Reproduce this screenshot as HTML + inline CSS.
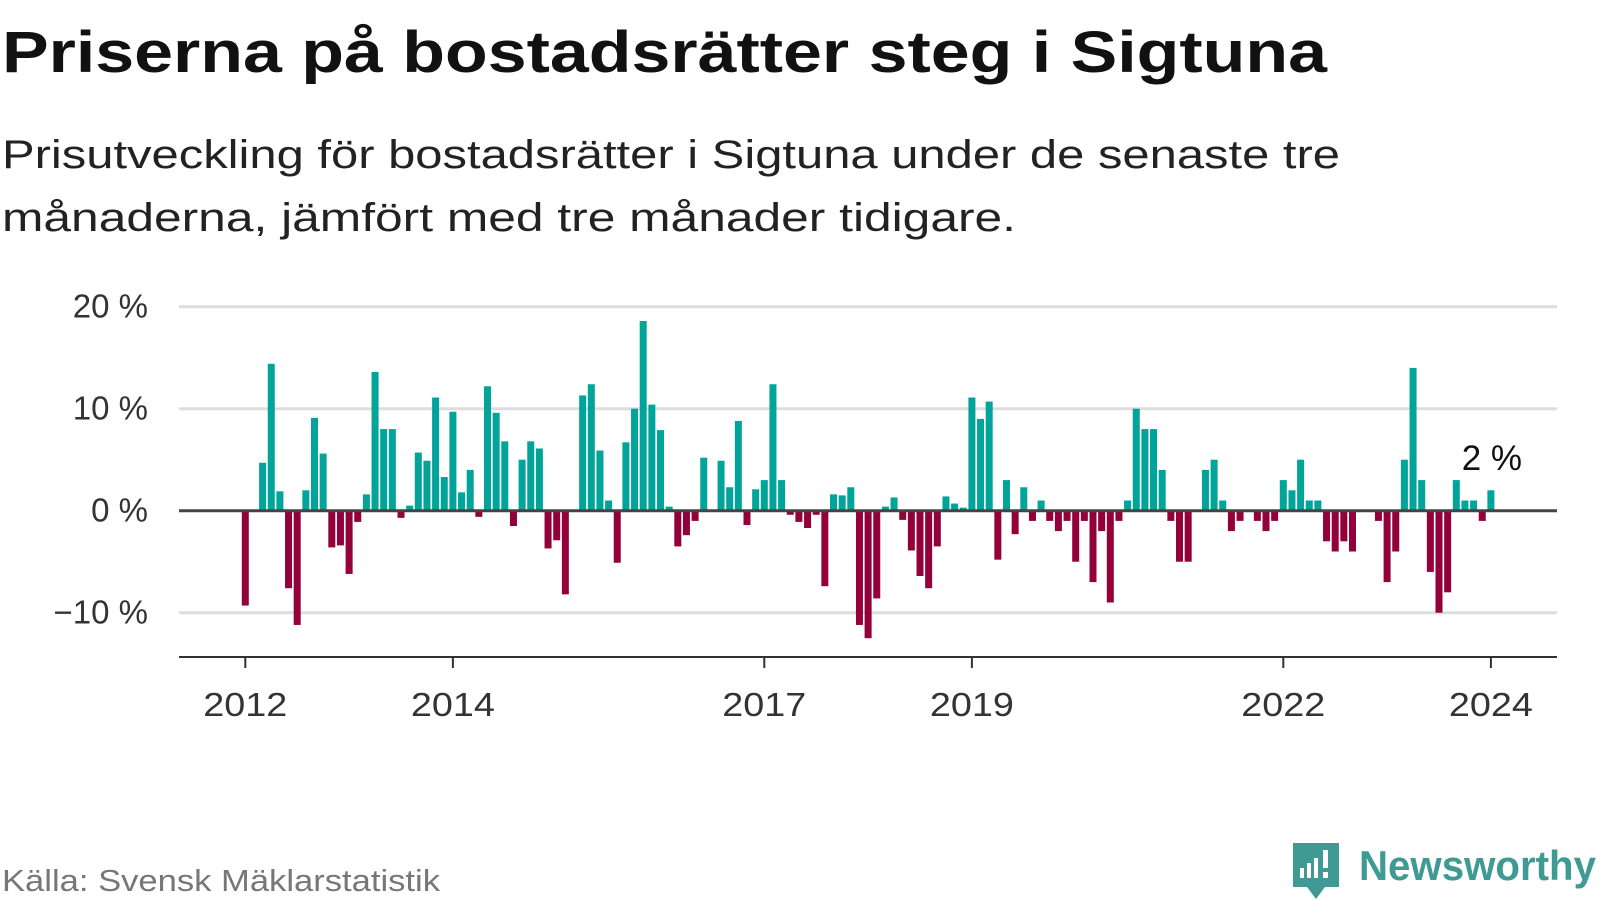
<!DOCTYPE html>
<html><head><meta charset="utf-8"><style>
html,body{margin:0;padding:0;background:#fff;}
svg{display:block;font-family:"Liberation Sans",sans-serif;}
</style></head><body>
<svg id="chart" width="1600" height="900" viewBox="0 0 1600 900">
<text x="2" y="72" font-size="58" font-weight="bold" fill="#111" textLength="1325" lengthAdjust="spacingAndGlyphs">Priserna på bostadsrätter steg i Sigtuna</text>
<text x="2" y="168" font-size="40" fill="#222" textLength="1338" lengthAdjust="spacingAndGlyphs">Prisutveckling för bostadsrätter i Sigtuna under de senaste tre</text>
<text x="2" y="231" font-size="40" fill="#222" textLength="1014" lengthAdjust="spacingAndGlyphs">månaderna, jämfört med tre månader tidigare.</text>
<g id="grid"></g>
<g id="bars"></g>
<g id="axis"></g>
<text x="2" y="891" font-size="31" fill="#777" textLength="438" lengthAdjust="spacingAndGlyphs">Källa: Svensk Mäklarstatistik</text>
<g>
<path d="M1293 843 h46 v44 h-14 l-9 12 l-9 -12 h-14 z" fill="#3e9a93"/>
<rect x="1300" y="868" width="4" height="10" fill="#fff"/>
<rect x="1307" y="863" width="4" height="15" fill="#fff"/>
<rect x="1314" y="858" width="4" height="20" fill="#fff"/>
<rect x="1323" y="850" width="5" height="18" fill="#fff"/>
<rect x="1323" y="872" width="5" height="6" fill="#fff"/>
<text x="1359" y="880" font-size="42" font-weight="bold" fill="#3e9a93" textLength="237" lengthAdjust="spacingAndGlyphs">Newsworthy</text>
</g>
</svg>
<script>
const values = [-9.3,0,4.7,14.4,1.9,-7.6,-11.2,2.0,9.1,5.6,-3.6,-3.4,-6.2,-1.1,1.6,13.6,8.0,8.0,-0.7,0.5,5.7,4.9,11.1,3.3,9.7,1.8,4.0,-0.6,12.2,9.6,6.8,-1.5,5.0,6.8,6.1,-3.7,-2.9,-8.2,0,11.3,12.4,5.9,1.0,-5.1,6.7,10.0,18.6,10.4,7.9,0.4,-3.5,-2.4,-1.0,5.2,0,4.9,2.3,8.8,-1.4,2.1,3.0,12.4,3.0,-0.4,-1.1,-1.7,-0.4,-7.4,1.6,1.5,2.3,-11.2,-12.5,-8.6,0.4,1.3,-0.9,-3.9,-6.4,-7.6,-3.5,1.4,0.7,0.3,11.1,9.0,10.7,-4.8,3.0,-2.3,2.3,-1.0,1.0,-1.0,-2.0,-1.0,-5.0,-1.0,-7.0,-2.0,-9.0,-1.0,1.0,10.0,8.0,8.0,4.0,-1.0,-5.0,-5.0,0,4.0,5.0,1.0,-2.0,-1.0,0,-1.0,-2.0,-1.0,3.0,2.0,5.0,1.0,1.0,-3.0,-4.0,-3.0,-4.0,0,0,-1.0,-7.0,-4.0,5.0,14.0,3.0,-6.0,-10.0,-8.0,3.0,1.0,1.0,-1.0,2.0];
const startYear = 2012;
const yTicks = [20, 10, 0, -10];
const yTickLabels = ["20 %", "10 %", "0 %", "\u221210 %"];
const xTickYears = [2012, 2014, 2017, 2019, 2022, 2024];
const annotationText = "2 %";

const NS = "http://www.w3.org/2000/svg";
const x0 = 245.3, monthW = 8.65;
function xScale(i){ return x0 + i*monthW; }
function yearX(y){ return xScale((y-startYear)*12); }
function yScale(v){ return 510.7 - v*10.2; }
function mk(tag, attrs, parent){ const e=document.createElementNS(NS,tag); for(const k in attrs) e.setAttribute(k, attrs[k]); parent.appendChild(e); return e; }

const grid=document.getElementById('grid');
yTicks.forEach((t,k)=>{
  if(t!==0){
    const l=mk('line',{x1:179,x2:1557,y1:yScale(t),y2:yScale(t),stroke:'#dddddd','stroke-width':3},grid);
    
    
  }
  const tx=mk('text',{x:148,y:yScale(t)+11,'font-size':33,fill:'#333','text-anchor':'end'},grid);
  tx.textContent=yTickLabels[k];
  
  
});

const bars=document.getElementById('bars');
values.forEach((v,i)=>{
  if(v===0) return;
  const y=Math.min(yScale(v),yScale(0)), h=Math.abs(yScale(v)-yScale(0));
  const r=mk('rect',{x:xScale(i)-3.5,y:y,width:7,height:h,fill:v>0?'#00a499':'#93003a'},bars);
  
  
});

const axis=document.getElementById('axis');
const z=mk('line',{x1:179,x2:1557,y1:yScale(0),y2:yScale(0),stroke:'#444','stroke-width':3},axis);


const xl=mk('line',{x1:179,x2:1557,y1:657,y2:657,stroke:'#333','stroke-width':2},axis);


xTickYears.forEach(yr=>{
  const x=yearX(yr);
  const tk=mk('line',{x1:x,x2:x,y1:657,y2:668,stroke:'#333','stroke-width':2},axis);
  
  
  const t=mk('text',{x:x,y:716,'font-size':33,fill:'#333','text-anchor':'middle',textLength:84,lengthAdjust:'spacingAndGlyphs'},axis);
  t.textContent=yr;
  
  
});
const last=values.length-1;
const an=mk('text',{x:xScale(last)+1,y:470,'font-size':35,fill:'#111','text-anchor':'middle'},axis);
an.textContent=annotationText;


</script>
</body></html>
